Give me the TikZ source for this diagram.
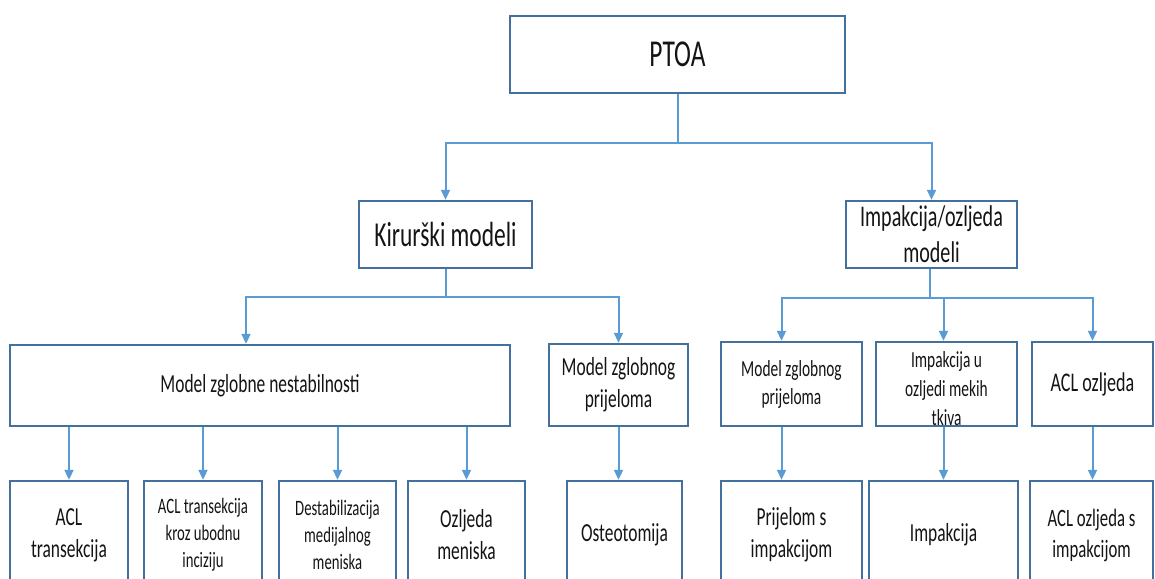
\documentclass[tikz,border=0pt]{standalone}
\usepackage{fontspec}
\setmainfont{Carlito}[FakeStretch=0.67]
\usetikzlibrary{arrows.meta}
\definecolor{boxblue}{HTML}{41719C}
\definecolor{linkblue}{HTML}{5B9BD5}
\definecolor{txt}{HTML}{141414}

\begin{document}
\begin{tikzpicture}[x=1pt,y=-1pt,
  box/.style={draw=boxblue,line width=2.4pt,text=txt,align=center,inner sep=0pt},
  link/.style={draw=linkblue,line width=2pt},
  arr/.style={link,-{Triangle[width=9pt,length=10pt]}},
  fs/.style 2 args={font=\fontsize{#1}{#2}\selectfont}]
\useasboundingbox (0,0) rectangle (1155,578);
\clip (0,0) rectangle (1155,578);

% top and second level
\node[box,fs={38}{46},minimum width=335pt,minimum height=77pt] (ptoa) at (677.5,54.5) {PTOA};
\node[box,fs={35}{43},minimum width=173pt,minimum height=67pt] (kir) at (445.5,234.5) {Kirurški modeli};
\node[box,fs={30}{36},minimum width=171pt,minimum height=67pt] (imp) at (931.5,234.5) {Impakcija/ozljeda\\modeli};

% third level
\node[box,fs={26}{32},minimum width=500pt,minimum height=81pt] (mzn) at (260,385.5) {Model zglobne nestabilnosti};
\node[box,fs={26}{32},minimum width=139pt,minimum height=82pt] (mzp) at (618.5,385) {Model zglobnog\\prijeloma};
\node[box,fs={23}{28},minimum width=141pt,minimum height=84pt] (mzp2) at (791.5,384) {Model zglobnog\\prijeloma};
\node[box,minimum width=141pt,minimum height=84pt] (imu) at (946.5,384) {};
\node[fs={23}{29},text=txt,align=center,inner sep=0pt,yshift=-5pt] (imutext) at (imu) {Impakcija u\\ozljedi mekih\\tkiva};
\node[box,fs={27}{33},minimum width=121pt,minimum height=84pt] (aclo) at (1092.5,384) {ACL ozljeda};

% bottom row (cut by the page edge)
\node[box,fs={26}{32},minimum width=118pt,minimum height=108pt] (aclt) at (69,535) {ACL\\transekcija};
\node[box,fs={22}{27},minimum width=118pt,minimum height=108pt] (aclk) at (203,535) {ACL transekcija\\kroz ubodnu\\inciziju};
\node[box,fs={22}{27},minimum width=117pt,minimum height=108pt] (dmm) at (337.5,535) {Destabilizacija\\medijalnog\\meniska};
\node[box,fs={26}{32},minimum width=117pt,minimum height=108pt] (ozm) at (466.5,535) {Ozljeda\\meniska};
\node[box,fs={26}{32},minimum width=115pt,minimum height=108pt] (ost) at (624.5,535) {Osteotomija};
\node[box,fs={26}{32},minimum width=141pt,minimum height=108pt] (prij) at (791.5,535) {Prijelom s\\impakcijom};
\node[box,fs={26}{32},minimum width=149pt,minimum height=108pt] (imk) at (943.5,535) {Impakcija};
\node[box,fs={25}{31},minimum width=123pt,minimum height=108pt] (acli) at (1091.5,535) {ACL ozljeda s\\impakcijom};

% connectors
\draw[arr] (ptoa.south) -- ++(0,49) -| (kir.north);
\draw[arr] (ptoa.south) -- ++(0,49) -| (imp.north);
\draw[arr] (kir.south) -- ++(0,28) -| ([xshift=-14pt]mzn.north);
\draw[arr] (kir.south) -- ++(0,28) -| (mzp.north);
\draw[arr] ([xshift=-2pt]imp.south) -- ++(0,29) -| ([xshift=-10pt]mzp2.north);
\draw[arr] ([xshift=-2pt]imp.south) -- ++(0,29) -| ([xshift=-3pt]imu.north);
\draw[arr] ([xshift=-2pt]imp.south) -- ++(0,29) -| (aclo.north);

\foreach \b in {aclt,aclk,dmm,ozm}
  \draw[arr] (mzn.south -| \b.north) -- (\b.north);
\draw[arr] (mzp.south) -- (mzp.south |- ost.north);
\draw[arr] ([xshift=-10pt]mzp2.south) -- ([xshift=-10pt]mzp2.south |- prij.north);
\draw[arr] (imu.south -| imk.north) -- (imk.north);
\draw[arr] (aclo.south) -- (aclo.south |- acli.north);
\end{tikzpicture}
\end{document}
